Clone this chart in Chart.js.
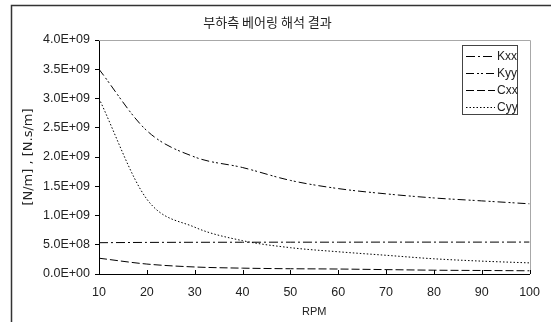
<!DOCTYPE html>
<html>
<head>
<meta charset="utf-8">
<script src="https://cdn.jsdelivr.net/npm/chart.js@4.4.1/dist/chart.umd.min.js"></script>
<style>
  body { margin: 0; background: #fff; }
  canvas { display: block; }
</style>
</head>
<body>
<canvas id="chart" width="551" height="322"></canvas>
<script>
const rpm = [10, 20, 30, 40, 50, 60, 70, 80, 90, 100];
const kxx = [5.35e8, 5.4e8, 5.42e8, 5.43e8, 5.44e8, 5.44e8, 5.45e8, 5.45e8, 5.45e8, 5.46e8];
const kyy = [3.5e9, 2.45e9, 2.0e9, 1.82e9, 1.6e9, 1.46e9, 1.37e9, 1.3e9, 1.25e9, 1.2e9];
const cxx = [2.7e8, 1.7e8, 1.2e8, 1.0e8, 0.9e8, 0.85e8, 0.75e8, 0.65e8, 0.6e8, 0.55e8];
const cyy = [3.0e9, 1.28e9, 0.8e9, 0.57e9, 0.45e9, 0.38e9, 0.32e9, 0.26e9, 0.22e9, 0.19e9];

const seriesNames = ['Kxx', 'Kyy', 'Cxx', 'Cyy'];
const seriesData = [kxx, kyy, cxx, cyy];
const dashes = [[9, 3, 2, 3], [8, 3, 2, 2, 2, 3], [8, 3], [1.5, 2]];

const title = '부하측 베어링 해석 결과';
const xTitle = 'RPM';
const yTitle = '[N/m] , [N.s/m]';

Chart.defaults.font.family = '"Liberation Sans", Arial, sans-serif';
Chart.defaults.color = '#222';

// 0 -> 0.0E+00, 5e8 -> 5.0E+08
function sci(v) {
  if (v === 0) return '0.0E+00';
  let exp = Math.floor(Math.log10(Math.abs(v)));
  let mant = v / Math.pow(10, exp);
  if (Math.abs(mant) >= 9.95) { mant /= 10; exp += 1; }
  const sign = exp < 0 ? '-' : '+';
  return mant.toFixed(1) + 'E' + sign + String(Math.abs(exp)).padStart(2, '0');
}

const framePlugin = {
  id: 'frame',
  afterDraw(chart) {
    const ctx = chart.ctx;
    const area = chart.chartArea;
    const xScale = chart.scales.x;

    ctx.save();
    // outer frame (cut off at right and bottom)
    ctx.strokeStyle = '#333';
    ctx.lineWidth = 1.5;
    ctx.beginPath();
    ctx.moveTo(11.5, chart.height);
    ctx.lineTo(11.5, 5.5);
    ctx.lineTo(chart.width, 5.5);
    ctx.stroke();

    // top and right edge of plot area
    ctx.strokeStyle = '#a8a8a8';
    ctx.lineWidth = 1;
    ctx.beginPath();
    ctx.moveTo(Math.round(area.left), Math.round(area.top) + 0.5);
    ctx.lineTo(Math.round(area.right) + 0.5, Math.round(area.top) + 0.5);
    ctx.lineTo(Math.round(area.right) + 0.5, Math.round(area.bottom));
    ctx.stroke();

    // x ticks point inward
    ctx.strokeStyle = '#000';
    ctx.beginPath();
    xScale.ticks.forEach(t => {
      const px = Math.round(xScale.getPixelForValue(t.value)) + 0.5;
      ctx.moveTo(px, area.bottom);
      ctx.lineTo(px, area.bottom - 4);
    });
    ctx.stroke();

    // legend box
    const lx = 462, ly = 45, lw = 55, lh = 69;
    ctx.fillStyle = '#fff';
    ctx.fillRect(lx, ly, lw, lh);
    ctx.strokeStyle = '#444';
    ctx.strokeRect(lx + 0.5, ly + 0.5, lw, lh);
    ctx.font = '12px "Liberation Sans", Arial, sans-serif';
    ctx.textBaseline = 'middle';
    ctx.fillStyle = '#222';
    chart.data.datasets.forEach((ds, i) => {
      const y = Math.round(ly + 11 + i * 17) + 0.5;
      ctx.strokeStyle = ds.borderColor;
      ctx.setLineDash(ds.borderDash);
      ctx.beginPath();
      ctx.moveTo(lx + 4, y);
      ctx.lineTo(lx + 33, y);
      ctx.stroke();
      ctx.setLineDash([]);
      ctx.fillText(ds.label, lx + 35, y);
    });
    ctx.restore();
  }
};

const ctx = document.getElementById('chart').getContext('2d');
const chart = new Chart(ctx, {
  type: 'line',
  data: {
    datasets: seriesNames.map((name, i) => ({
      label: name,
      data: rpm.map((r, j) => ({ x: r, y: seriesData[i][j] })),
      borderColor: '#000',
      borderWidth: 1,
      borderDash: dashes[i],
      pointRadius: 0,
      fill: false,
      cubicInterpolationMode: 'monotone'
    }))
  },
  options: {
    responsive: false,
    animation: false,
    events: [],
    layout: { padding: { left: 4, right: 20, top: 0, bottom: 0 } },
    plugins: {
      legend: { display: false },
      tooltip: { enabled: false },
      title: {
        display: true,
        text: title,
        color: '#222',
        font: { family: '"Noto Sans CJK KR", sans-serif', size: 13, weight: 'normal', lineHeight: 1.2 },
        padding: { top: 14, bottom: 10.4 }
      }
    },
    scales: {
      x: {
        type: 'linear',
        min: 10,
        max: 100,
        ticks: { stepSize: 10, padding: 11, font: { size: 12.5 }, maxRotation: 0 },
        grid: { drawOnChartArea: false, drawTicks: false },
        border: { color: '#000' },
        title: { display: true, text: xTitle, font: { size: 11 }, padding: { top: 0, bottom: 3.4 } },
        afterFit(scale) { scale.height = 48; }
      },
      y: {
        min: 0,
        max: 4e9,
        ticks: { stepSize: 5e8, padding: 5, font: { size: 12.5 }, callback: v => sci(v) },
        grid: { drawOnChartArea: false, drawTicks: true, tickLength: 4, color: '#000' },
        border: { color: '#000' },
        title: {
          display: true,
          text: yTitle,
          font: { family: '"DejaVu Sans", sans-serif', size: 13 },
          padding: { top: 17.2, bottom: 0 }
        },
        afterFit(scale) { scale.width = 95; }
      }
    }
  },
  plugins: [framePlugin]
});
</script>
</body>
</html>
